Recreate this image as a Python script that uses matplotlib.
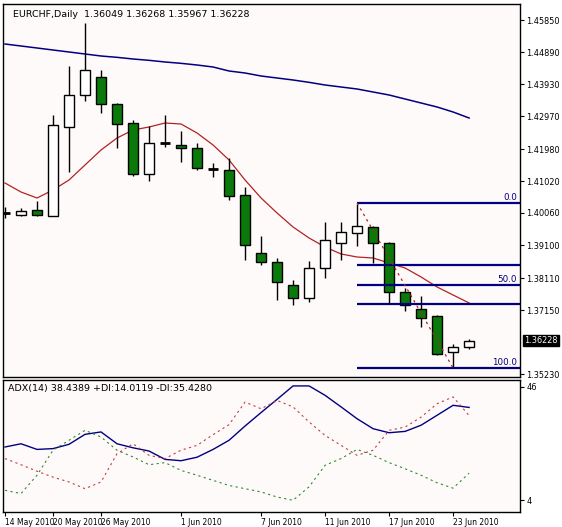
import matplotlib
matplotlib.use("Agg")
import matplotlib.pyplot as plt
import numpy as np

plt.rcParams['font.family'] = ['DejaVu Sans']

opens  = [1.4006,1.4000,1.4015,1.3997,1.4264,1.4360,1.4414,1.4333,1.4276,1.4123,1.4216,1.4210,1.4201,1.4138,1.4135,
          1.4060,1.3886,1.3859,1.3790,1.3751,1.3841,1.3916,1.3946,1.3964,1.3916,1.3769,1.3718,1.3697,1.3589,1.36049]
highs  = [1.4024,1.4021,1.4042,1.4300,1.4447,1.4576,1.4435,1.4336,1.4285,1.4267,1.4300,1.4252,1.4216,1.4156,1.4171,
          1.4084,1.3937,1.3871,1.3805,1.3862,1.3979,1.3979,1.4033,1.3967,1.3919,1.3781,1.3757,1.3700,1.3613,1.36268]
lows   = [1.3991,1.3997,1.3997,1.3997,1.4129,1.4342,1.4306,1.4201,1.4117,1.4102,1.4204,1.4159,1.4135,1.4114,1.4045,
          1.3865,1.3850,1.3745,1.3730,1.3739,1.3811,1.3865,1.3907,1.3856,1.3733,1.3712,1.3664,1.3580,1.3544,1.35967]
closes = [1.4007,1.4012,1.4000,1.4270,1.4360,1.4435,1.4333,1.4273,1.4123,1.4216,1.4215,1.4201,1.4141,1.4137,1.4057,
          1.3910,1.3859,1.3799,1.3751,1.3841,1.3925,1.3949,1.3967,1.3916,1.3769,1.3730,1.3691,1.3583,1.3604,1.36228]
ma_fast = [1.4096,1.4069,1.4051,1.4075,1.4105,1.4150,1.4195,1.4231,1.4255,1.4264,1.4276,1.4273,1.4246,1.4210,1.4165,
           1.4105,1.4051,1.4006,1.3964,1.3931,1.3904,1.3883,1.3874,1.3871,1.3856,1.3841,1.3814,1.3784,1.3760,1.3736]
ma_slow = [1.4513,1.4507,1.4501,1.4495,1.4489,1.4483,1.4477,1.4473,1.4468,1.4464,1.4459,1.4455,1.4450,1.4444,1.4432,
           1.4426,1.4417,1.4411,1.4405,1.4398,1.4390,1.4384,1.4378,1.4369,1.4360,1.4348,1.4336,1.4324,1.4309,1.4291]
adx   = [23.7,24.9,22.8,23.1,24.7,28.4,29.3,24.9,23.4,22.2,19.1,18.6,19.9,22.8,26.2,
         31.5,36.5,41.4,46.4,46.4,42.9,38.6,34.2,30.5,29.0,29.5,31.8,35.5,39.2,38.4]
di_minus = [19.4,17.1,14.7,12.5,10.7,8.2,10.7,21.2,24.9,20.6,19.4,22.5,24.3,28.3,32.0,
            40.4,37.9,41.0,38.6,33.0,28.0,24.3,20.6,22.5,29.9,31.1,34.8,39.8,42.3,35.4]
di_plus = [7.6,6.4,13.2,22.5,26.2,29.9,27.4,22.5,20.0,17.1,17.9,15.0,13.2,11.3,9.4,
           8.2,7.0,5.1,3.9,8.9,16.9,19.4,22.8,20.6,17.9,15.6,13.2,10.4,8.4,14.0]
fib_levels = [1.4036, 1.3850, 1.3790, 1.3733, 1.3541]
fib_labels = ["0.0", "", "50.0", "", "100.0"]
price_ticks = [1.45850,1.44890,1.43930,1.42970,1.41980,1.41020,1.40060,1.39100,1.38110,1.37150,1.35230]
date_idx = [0,3,6,11,16,20,24,28]
date_labels = ["14 May 2010","20 May 2010","26 May 2010","1 Jun 2010","7 Jun 2010","11 Jun 2010","17 Jun 2010","23 Jun 2010"]

fig = plt.figure(figsize=(5.62,5.27), dpi=100, facecolor="white")
ax = fig.add_axes([3/562, 1-377/527, 517/562, 373/527], facecolor="#fffafa")
ax2 = fig.add_axes([3/562, 1-512/527, 517/562, 132/527], facecolor="#fffafa")
x = np.arange(len(opens))
xl = (-0.125, 32.18)
fs = 5.9

green = "#0a780a"
for i in x:
    ax.vlines(i, lows[i], highs[i], color="black", lw=1, zorder=2)
    up = closes[i] >= opens[i]
    h = closes[i]-opens[i]
    if abs(h) < 0.0002:
        ax.hlines(opens[i], i-0.32, i+0.32, color="black", lw=2, zorder=3)
    else:
        ax.bar(i, h, bottom=opens[i], width=0.62, color="white" if up else green,
               edgecolor="black", lw=1, zorder=3)
ax.plot(x, ma_fast, color="#b22222", lw=0.9, zorder=1)
ax.plot(x, ma_slow, color="#000080", lw=1.1, zorder=1)
for lv, lb in zip(fib_levels, fib_labels):
    ax.hlines(lv, 22, xl[1], color="#000080", lw=1.6, zorder=4)
    if lb:
        ax.text(32.0, lv+0.0004, lb, color="#000080", fontsize=fs+0.4, ha="right", va="bottom")
ax.plot([22, 28], [fib_levels[0], fib_levels[-1]], color="#b22222", ls=(0,(2,3)), lw=0.9, zorder=4)
ax.set_xlim(*xl)
ax.set_ylim(1.3514, 1.4633)
ax.set_xticks([])
ax.yaxis.tick_right()
ax.set_yticks(price_ticks)
ax.set_yticklabels([f"{p:.5f}" for p in price_ticks], fontsize=fs)
ax.tick_params(axis="y", length=3, pad=1.5)
ax.text(0.02, 0.985, "EURCHF,Daily  1.36049 1.36268 1.35967 1.36228", transform=ax.transAxes,
        fontsize=6.8, va="top")
ax.text(1.0085, (closes[-1]-1.3514)/(1.4633-1.3514), f"{closes[-1]:.5f}", transform=ax.transAxes,
        fontsize=fs, color="white", va="center", ha="left",
        bbox=dict(boxstyle="square,pad=0.12", fc="black", ec="black"))

ax2.plot(x, adx, color="#000080", lw=1.0)
ax2.plot(x, di_plus, color="#2e8b2e", lw=0.8, ls=(0,(2,3)))
ax2.plot(x, di_minus, color="#c04040", lw=0.8, ls=(0,(2,3)))
ax2.set_xlim(*xl)
ax2.set_ylim(-0.46, 48.6)
ax2.yaxis.tick_right()
ax2.set_yticks([46, 4])
ax2.set_yticklabels(["46", "4"], fontsize=fs)
ax2.tick_params(axis="y", length=3, pad=1.5)
ax2.set_xticks(date_idx)
ax2.set_xticklabels(date_labels, fontsize=5.5, ha="left")
ax2.tick_params(axis="x", length=3, pad=1)
ax2.text(0.01, 0.97, "ADX(14) 38.4389 +DI:14.0119 -DI:35.4280", transform=ax2.transAxes,
         fontsize=6.8, va="top")
for a in (ax, ax2):
    for s in a.spines.values():
        s.set_linewidth(1)
fig.savefig("out.png", dpi=100, facecolor=fig.get_facecolor())
